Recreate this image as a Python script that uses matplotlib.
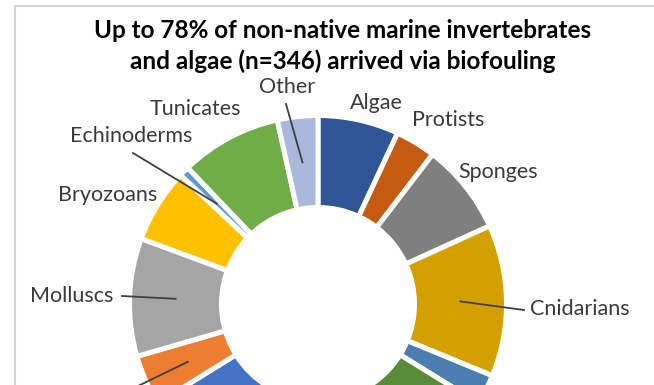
import numpy as np
import matplotlib.pyplot as plt

plt.rcParams["font.family"] = ["Lato", "DejaVu Sans"]

# share of the 346 species per group, clockwise from 12 o'clock
groups = ["Algae", "Protists", "Sponges", "Cnidarians", "Nemerteans", "Crustaceans",
          "Polychaetes", "Ctenophores", "Molluscs", "Bryozoans", "Echinoderms",
          "Tunicates", "Other"]
counts = [24, 12, 27, 45, 9, 60, 52, 15, 35, 22, 3, 30, 12]
colors = ["#2F5597", "#C55A11", "#7F7F7F", "#D4A000", "#4A7EB0", "#568C38",
          "#4472C4", "#ED7D31", "#A5A5A5", "#FFC000", "#5B9BD5", "#70AD47",
          "#A9B8DC"]
title = "Up to 78% of non-native marine invertebrates\nand algae (n=346) arrived via biofouling"

W, H = 654, 385
fig = plt.figure(figsize=(W / 100, H / 100), dpi=100)
ax = fig.add_axes([0, 0, 1, 1])

cx, cy = 318, H - 304
r_out, r_in = 188.5, 96.5
wedges, _ = ax.pie(counts, colors=colors, startangle=90, counterclock=False,
                   center=(cx, cy), radius=r_out,
                   wedgeprops=dict(width=r_out - r_in, edgecolor="white", linewidth=3.6))
ax.set_xlim(0, W)
ax.set_ylim(0, H)
ax.axis("off")

# label position (pixels from top-left) and optional leader line end
labels = {
    "Algae": (376, 103, None),
    "Protists": (448, 120, None),
    "Sponges": (498, 172, None),
    "Cnidarians": (580, 309, (524, 310)),
    "Ctenophores": (82, 395, (138, 386)),
    "Molluscs": (72, 296, (122, 296)),
    "Bryozoans": (108, 195, None),
    "Echinoderms": (131, 136, (133, 153)),
    "Tunicates": (195, 109, None),
    "Other": (287, 87, (286, 104)),
}
r_mid = (r_out + r_in) / 2
for w, name in zip(wedges, groups):
    if name not in labels:
        continue
    tx, ty, end = labels[name]
    ax.text(tx, H - ty, name, ha="center", va="center", fontsize=15.5, color="#3A3A3A")
    if end is not None:
        th = np.deg2rad((w.theta1 + w.theta2) / 2)
        ax.plot([cx + r_mid * np.cos(th), end[0]], [cy + r_mid * np.sin(th), H - end[1]],
                color="#404040", lw=1.3, clip_on=False)

ax.text(343, H - 46, title, ha="center", va="center", fontsize=17.5,
        fontweight="bold", color="black", linespacing=1.42)

# chart frame (left and top edges only visible)
ax.plot([15, 15], [0, H - 6], color="#D4D4D4", lw=1.5)
ax.plot([15, W], [H - 6, H - 6], color="#D4D4D4", lw=1.5)

fig.savefig("out.png", dpi=100)
